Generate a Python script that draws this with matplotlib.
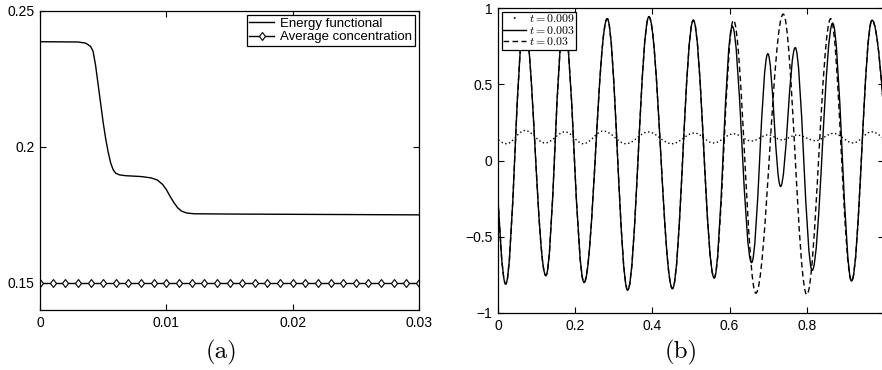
import matplotlib
matplotlib.use("Agg")
import matplotlib.pyplot as plt
from matplotlib.path import Path
from matplotlib.patches import PathPatch
from matplotlib.lines import Line2D

plt.rcParams['font.family'] = ['Liberation Sans', 'DejaVu Sans']
plt.rcParams['mathtext.fontset'] = 'cm'

# ---------------- panel (a) data ----------------
energy_t = [0.0, 0.0030, 0.0036, 0.0040, 0.0042, 0.0044, 0.0046, 0.0048, 0.0050,
            0.0052, 0.0054, 0.0056, 0.0058, 0.0060, 0.0063, 0.0068, 0.0080, 0.0088,
            0.0093, 0.0097, 0.0100, 0.0103, 0.0106, 0.0109, 0.0112, 0.0116, 0.0122,
            0.015, 0.02, 0.03]
energy_v = [0.2387, 0.2386, 0.2382, 0.2370, 0.2352, 0.2300, 0.2230, 0.2160, 0.2090,
            0.2030, 0.1980, 0.1940, 0.1915, 0.1903, 0.1897, 0.1894, 0.1891, 0.1886,
            0.1878, 0.1862, 0.1843, 0.1818, 0.1795, 0.1776, 0.1764, 0.1757, 0.1754,
            0.1753, 0.1752, 0.1750]
avg_t = [i * 0.001 for i in range(31)]
avg_v = [0.15] * 31

# ---------------- panel (b) data (extrema) ----------------
sol_x = [-0.032, 0.020, 0.068, 0.124, 0.171, 0.223, 0.283, 0.336, 0.391, 0.452, 0.506,
         0.560, 0.607, 0.657, 0.699, 0.732, 0.770, 0.814, 0.867, 0.916, 0.969, 1.045]
sol_y = [0.92, -0.81, 0.92, -0.755, 0.92, -0.80, 0.93, -0.85, 0.943, -0.84, 0.92,
         -0.77, 0.88, -0.67, 0.70, -0.17, 0.74, -0.72, 0.90, -0.79, 0.92, -0.80]
dash_x = [-0.032, 0.020, 0.068, 0.124, 0.171, 0.223, 0.283, 0.336, 0.391, 0.452, 0.506,
          0.560, 0.610, 0.668, 0.739, 0.800, 0.862, 0.916, 0.969, 1.045]
dash_y = [0.92, -0.81, 0.92, -0.755, 0.92, -0.80, 0.93, -0.85, 0.943, -0.84, 0.92,
          -0.77, 0.92, -0.87, 0.96, -0.88, 0.93, -0.79, 0.92, -0.80]
dot_x = [-0.032, 0.022, 0.070, 0.122, 0.174, 0.221, 0.273, 0.332, 0.389, 0.450, 0.509,
         0.558, 0.610, 0.657, 0.700, 0.735, 0.774, 0.823, 0.869, 0.920, 0.968, 1.025]
dot_y = [0.19, 0.11, 0.197, 0.115, 0.188, 0.11, 0.193, 0.11, 0.187, 0.11, 0.18,
         0.115, 0.175, 0.128, 0.168, 0.135, 0.167, 0.13, 0.178, 0.115, 0.188, 0.11]
labels_b = [r'$t = 0.009$', r'$t = 0.003$', r'$t = 0.03$']


def smooth_path(xs, ys, c=0.3642):
    verts = [(xs[0], ys[0])]
    codes = [Path.MOVETO]
    for i in range(len(xs) - 1):
        dx = xs[i + 1] - xs[i]
        verts += [(xs[i] + c * dx, ys[i]), (xs[i + 1] - c * dx, ys[i + 1]), (xs[i + 1], ys[i + 1])]
        codes += [Path.CURVE4] * 3
    return Path(verts, codes)


def style_ax(ax):
    ax.tick_params(direction='in', top=True, right=True, length=4, width=0.8,
                   labelsize=10, pad=4)
    for s in ax.spines.values():
        s.set_linewidth(0.9)


fig = plt.figure(figsize=(8.82, 3.70), dpi=100)

# ---------- (a) ----------
axa = fig.add_axes([40 / 882, 60 / 370, 379 / 882, 299 / 370])
axa.plot(energy_t, energy_v, color='black', lw=1.0, label='Energy functional')
axa.plot(avg_t, avg_v, color='black', lw=1.0, marker='d', ms=4.5, mfc='white',
         mec='black', mew=0.8, label='Average concentration')
axa.set_xlim(0, 0.03)
axa.set_ylim(0.14, 0.25)
axa.set_xticks([0, 0.01, 0.02, 0.03])
axa.set_xticklabels(['0', '0.01', '0.02', '0.03'])
axa.set_yticks([0.15, 0.2, 0.25])
axa.set_yticklabels(['0.15', '0.2', '0.25'])
style_ax(axa)
leg = axa.legend(loc='upper right', fontsize=9.5, handlelength=1.9, handletextpad=0.45,
                 borderpad=0.2, labelspacing=0.1, borderaxespad=0.3,
                 fancybox=False, edgecolor='black', framealpha=1, numpoints=1)
leg.get_frame().set_linewidth(0.9)

# ---------- (b) ----------
axb = fig.add_axes([498 / 882, 57 / 370, 386 / 882, 305 / 370])
axb.add_patch(PathPatch(smooth_path(dot_x, dot_y), fill=False, ec='black', lw=1.0,
                        ls=(0, (1, 1.8))))
axb.add_patch(PathPatch(smooth_path(sol_x, sol_y), fill=False, ec='black', lw=1.0))
axb.add_patch(PathPatch(smooth_path(dash_x, dash_y), fill=False, ec='black', lw=1.0,
                        ls=(0, (4, 2.5))))
axb.set_xlim(0, 1)
axb.set_ylim(-1, 1)
axb.set_xticks([0, 0.2, 0.4, 0.6, 0.8, 1.0])
axb.set_xticklabels(['0', '0.2', '0.4', '0.6', '0.8', ''])
axb.set_yticks([-1, -0.5, 0, 0.5, 1])
axb.set_yticklabels(['\u22121', '\u22120.5', '0', '0.5', '1'])
style_ax(axb)
handles = [Line2D([], [], color='black', lw=1.2, ls=(24.5, (1, 30))),
           Line2D([], [], color='black', lw=1.0),
           Line2D([], [], color='black', lw=1.0, ls=(0, (4, 2.5)))]
legb = axb.legend(handles, labels_b, loc='upper left', fontsize=8.5, handlelength=1.9,
                  handletextpad=0.25, borderpad=0.15, labelspacing=-0.05,
                  borderaxespad=0.3, fancybox=False, edgecolor='black', framealpha=1)
legb.get_frame().set_linewidth(0.9)

fig.text(222 / 882, 18 / 370, '(a)', family='cmr10', size=18, ha='center', va='center')
fig.text(681 / 882, 18 / 370, '(b)', family='cmr10', size=18, ha='center', va='center')

fig.savefig('out.png', dpi=100)
